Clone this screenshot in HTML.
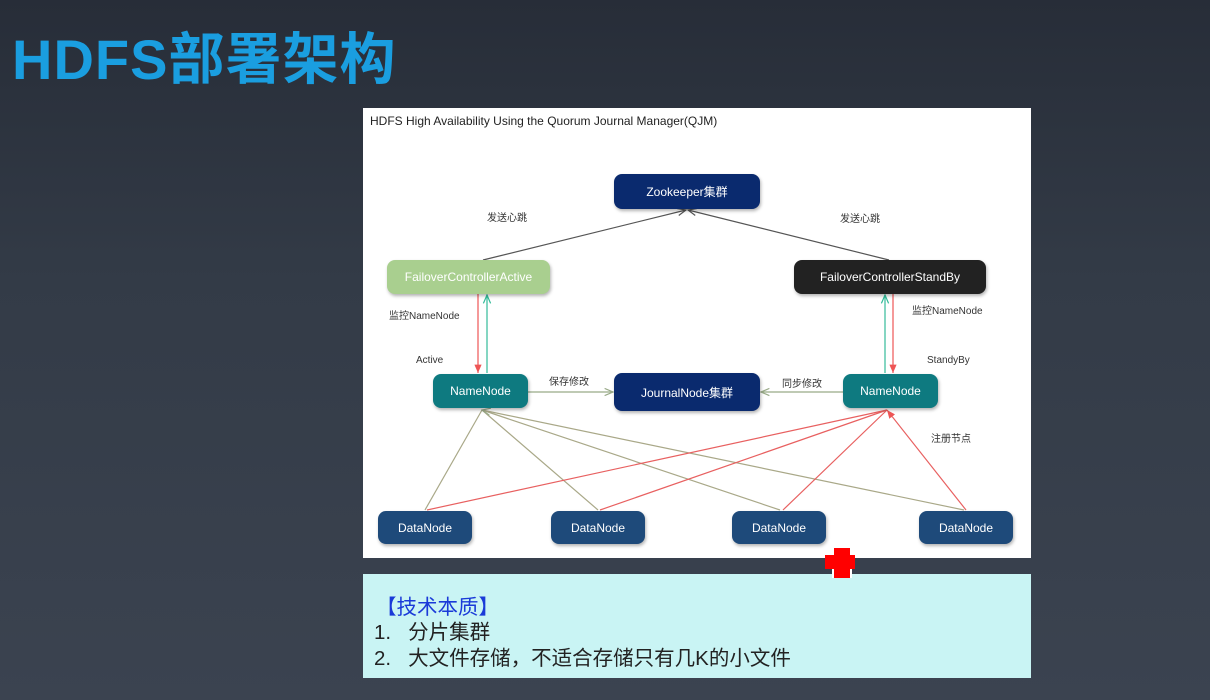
<!DOCTYPE html>
<html><head><meta charset="utf-8"><style>
html,body{margin:0;padding:0}
body{width:1210px;height:700px;overflow:hidden;background:linear-gradient(180deg,#272d38 0%,#333b47 40%,#3b4350 100%);position:relative;font-family:"Liberation Sans","Noto Sans CJK SC",sans-serif}
.t{position:absolute;left:12px;top:15px;font-size:56px;font-weight:bold;color:#1a9ee0;letter-spacing:1px}
.box{position:absolute;left:363px;top:108px;width:668px;height:450px;background:#fff}
.cy{position:absolute;left:363px;top:574px;width:668px;height:104px;background:#c9f4f4}
.n{position:absolute;border-radius:8px;color:#fff;font-size:12px;display:flex;align-items:center;justify-content:center;box-shadow:1px 2px 3px rgba(0,0,0,.3)}
.l{position:absolute;font-size:10px;color:#333}
.c{position:absolute;font-size:20.5px;color:#222}
</style></head><body>
<div class="t">HDFS部署架构</div>
<div class="box"></div>
<div class="l" style="left:370px;top:114px;font-size:12px;color:#222">HDFS High Availability Using the Quorum Journal Manager(QJM)</div>
<svg style="position:absolute;left:0;top:0" width="1210" height="700">
<defs><marker id="a" markerWidth="8" markerHeight="8" refX="7" refY="4" orient="auto"><path d="M0,1 L7,4 L0,7" fill="none" stroke="#555" stroke-width="1"/></marker>
<marker id="r" markerWidth="8" markerHeight="8" refX="7" refY="4" orient="auto"><path d="M0,1 L7,4 L0,7" fill="#e55"/></marker>
<marker id="g" markerWidth="8" markerHeight="8" refX="7" refY="4" orient="auto"><path d="M0,1 L7,4 L0,7" fill="none" stroke="#3b9" stroke-width="1"/></marker>
<marker id="o" markerWidth="8" markerHeight="8" refX="7" refY="4" orient="auto"><path d="M0,1 L7,4 L0,7" fill="none" stroke="#9a8" stroke-width="1"/></marker></defs>
<g stroke-width="1.2" fill="none">
<line x1="483" y1="260" x2="686" y2="210" stroke="#555" marker-end="url(#a)"/>
<line x1="889" y1="260" x2="688" y2="210" stroke="#555" marker-end="url(#a)"/>
<line x1="478" y1="294" x2="478" y2="373" stroke="#e55" marker-end="url(#r)"/>
<line x1="487" y1="373" x2="487" y2="295" stroke="#3b9" marker-end="url(#g)"/>
<line x1="885" y1="373" x2="885" y2="295" stroke="#3b9" marker-end="url(#g)"/>
<line x1="893" y1="294" x2="893" y2="373" stroke="#e55" marker-end="url(#r)"/>
<line x1="528" y1="392" x2="613" y2="392" stroke="#9a8" marker-end="url(#o)"/>
<line x1="843" y1="392" x2="761" y2="392" stroke="#9a8" marker-end="url(#o)"/>
<g stroke="#a9a888">
<line x1="425" y1="510" x2="482" y2="410"/>
<line x1="598" y1="510" x2="482" y2="410"/>
<line x1="780" y1="510" x2="482" y2="410"/>
<line x1="964" y1="510" x2="482" y2="410" marker-end="url(#o)"/>
</g>
<g stroke="#e86060">
<line x1="427" y1="510" x2="887" y2="410"/>
<line x1="600" y1="510" x2="887" y2="410"/>
<line x1="783" y1="510" x2="887" y2="410"/>
<line x1="966" y1="510" x2="887" y2="410" marker-end="url(#r)"/>
</g>
<path d="M407,637 Q440,633 475,636 Q495,634 512,634" stroke="#e33" stroke-width="1.5"/>
<path d="M405,664 Q470,661 540,662 Q590,662 620,670 Q680,678 760,674 Q800,672 828,670" stroke="#e33" stroke-width="1.5"/>
</g>
</svg>
<div class="n" style="left:614px;top:174px;width:146px;height:35px;background:#0a2a6e">Zookeeper集群</div>
<div class="n" style="left:387px;top:260px;width:163px;height:34px;background:#a9cf8f">FailoverControllerActive</div>
<div class="n" style="left:794px;top:260px;width:192px;height:34px;background:#222">FailoverControllerStandBy</div>
<div class="n" style="left:433px;top:374px;width:95px;height:34px;background:#0e7a80">NameNode</div>
<div class="n" style="left:614px;top:373px;width:146px;height:38px;background:#0a2a6e">JournalNode集群</div>
<div class="n" style="left:843px;top:374px;width:95px;height:34px;background:#0e7a80">NameNode</div>
<div class="n" style="left:378px;top:511px;width:94px;height:33px;background:#1e4a7a">DataNode</div>
<div class="n" style="left:551px;top:511px;width:94px;height:33px;background:#1e4a7a">DataNode</div>
<div class="n" style="left:732px;top:511px;width:94px;height:33px;background:#1e4a7a">DataNode</div>
<div class="n" style="left:919px;top:511px;width:94px;height:33px;background:#1e4a7a">DataNode</div>
<div class="l" style="left:487px;top:209px">发送心跳</div>
<div class="l" style="left:840px;top:210px">发送心跳</div>
<div class="l" style="left:389px;top:307px">监控NameNode</div>
<div class="l" style="left:912px;top:302px">监控NameNode</div>
<div class="l" style="left:416px;top:355px">Active</div>
<div class="l" style="left:927px;top:355px">StandyBy</div>
<div class="l" style="left:549px;top:373px">保存修改</div>
<div class="l" style="left:782px;top:375px">同步修改</div>
<div class="l" style="left:931px;top:430px">注册节点</div>
<div class="cy"></div>
<div style="position:absolute;left:832px;top:548px;width:16px;height:30px;background:#f00;border:2px solid #fff;border-width:0 2px"></div>
<div style="position:absolute;left:825px;top:555px;width:30px;height:14px;background:#f00"></div>
<div class="c" style="left:376px;top:590px;color:#1a3ad8">【技术本质】</div>
<div class="c" style="left:374px;top:615px">1.&nbsp;&nbsp; 分片集群</div>
<div class="c" style="left:374px;top:641px">2.&nbsp;&nbsp; 大文件存储，不适合存储只有几K的小文件</div>
</body></html>
